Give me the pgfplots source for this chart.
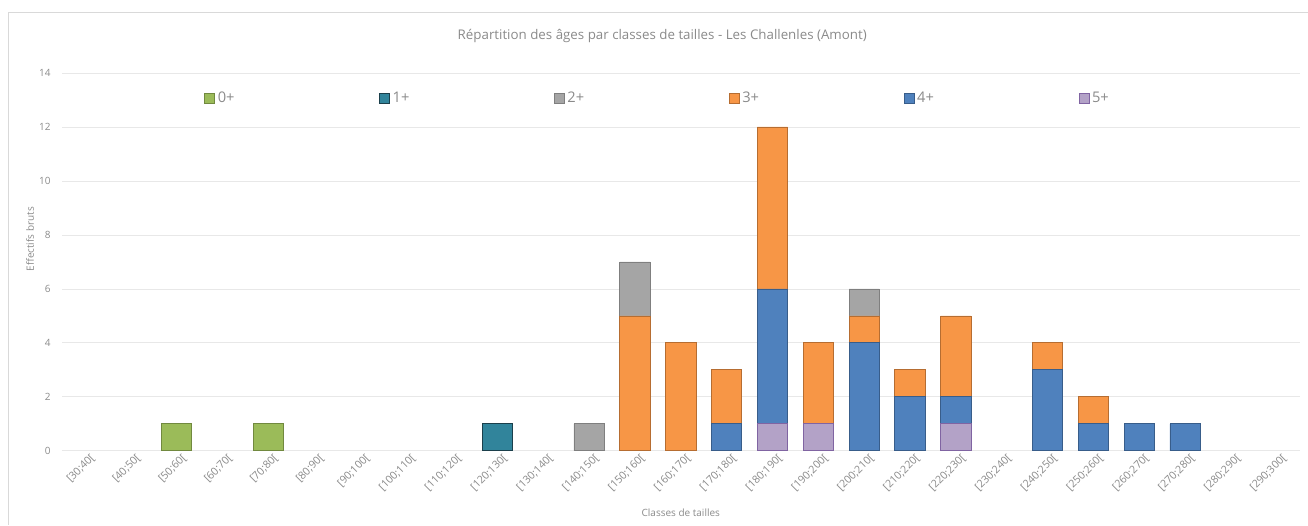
\documentclass[border=0pt]{standalone}
\usepackage{pgfplots}
\usepackage{pgfplotstable}
\pgfplotsset{compat=1.18}
\usepackage{fontspec}
\setmainfont{Open Sans}

\definecolor{cA}{HTML}{9BBB59}\definecolor{cAd}{HTML}{71893F}
\definecolor{cB}{HTML}{31849B}\definecolor{cBd}{HTML}{1B3F4B}
\definecolor{cC}{HTML}{A5A5A5}\definecolor{cCd}{HTML}{7F7F7F}
\definecolor{cD}{HTML}{F79646}\definecolor{cDd}{HTML}{B66D31}
\definecolor{cE}{HTML}{4F81BD}\definecolor{cEd}{HTML}{385D8A}
\definecolor{cF}{HTML}{B3A2C7}\definecolor{cFd}{HTML}{8064A2}
\definecolor{txt}{HTML}{8A8A8A}

% effectifs par classe de taille (index 0 = [30;40[ ... 26 = [290;300[)
\pgfplotstableread{
i  a0 a1 a2 a3 a4 a5
0  0  0  0  0  0  0
1  0  0  0  0  0  0
2  1  0  0  0  0  0
3  0  0  0  0  0  0
4  1  0  0  0  0  0
5  0  0  0  0  0  0
6  0  0  0  0  0  0
7  0  0  0  0  0  0
8  0  0  0  0  0  0
9  0  1  0  0  0  0
10 0  0  0  0  0  0
11 0  0  1  0  0  0
12 0  0  2  5  0  0
13 0  0  0  4  0  0
14 0  0  0  2  1  0
15 0  0  0  6  5  1
16 0  0  0  3  0  1
17 0  0  1  1  4  0
18 0  0  0  1  2  0
19 0  0  0  3  1  1
20 0  0  0  0  0  0
21 0  0  0  1  3  0
22 0  0  0  1  1  0
23 0  0  0  0  1  0
24 0  0  0  0  1  0
25 0  0  0  0  0  0
26 0  0  0  0  0  0
}\data

\begin{document}
\begin{tikzpicture}
\begin{axis}[
    scale only axis,
    width=928.5pt, height=283.5pt,
    ybar stacked, bar width=0.66,
    xmin=-0.5, xmax=26.5, ymin=0, ymax=14,
    ytick={0,2,...,14},
    xtick={0,...,26},
    xticklabels={{[30;40[},{[40;50[},{[50;60[},{[60;70[},{[70;80[},{[80;90[},{[90;100[},
        {[100;110[},{[110;120[},{[120;130[},{[130;140[},{[140;150[},{[150;160[},{[160;170[},
        {[170;180[},{[180;190[},{[190;200[},{[200;210[},{[210;220[},{[220;230[},{[230;240[},
        {[240;250[},{[250;260[},{[260;270[},{[270;280[},{[280;290[},{[290;300[}},
    x tick label style={rotate=45, anchor=north east, font=\fontsize{8}{9}\selectfont, text=txt, inner sep=0.5pt, yshift=-3pt, xshift=2pt},
    y tick label style={font=\fontsize{7.5}{8}\selectfont, text=txt, xshift=-5pt},
    /pgf/number format/assume math mode=true,
    major tick length=0pt,
    axis line style={draw=none},
    ymajorgrids, major grid style={draw=black!9, line width=0.6pt},
    extra y ticks={0}, extra y tick labels={},
    extra y tick style={grid style={draw=black!18, line width=0.7pt}},
    title={Répartition des âges par classes de tailles - Les Challenles (Amont)},
    title style={at={(axis description cs:0.485,1)}, anchor=center, yshift=22pt, font=\fontsize{10}{12}\selectfont, text=txt},
    xlabel={Classes de tailles},
    xlabel style={at={(axis description cs:0.5,0)}, anchor=center, yshift=-46.5pt, font=\fontsize{7.5}{8}\selectfont, text=txt},
    ylabel={Effectifs bruts},
    ylabel style={at={(axis description cs:0,0.56)}, anchor=center, yshift=24pt, font=\fontsize{7.5}{8}\selectfont, text=txt},
    legend image code/.code={\draw[#1] (0pt,-3.6pt) rectangle (7.5pt,3.6pt);},
    legend columns=6,
    legend style={at={(axis description cs:0.4815,0.965)}, anchor=north, draw=none, fill=none,
        font=\fontsize{11}{12}\selectfont, text=txt,
        /tikz/every even column/.append style={column sep=106.5pt}},
    every axis plot/.append style={line width=0.6pt},
]
\addlegendimage{fill=cA, draw=cAd}\addlegendentry{0+}
\addlegendimage{fill=cB, draw=cBd}\addlegendentry{1+}
\addlegendimage{fill=cC, draw=cCd}\addlegendentry{2+}
\addlegendimage{fill=cD, draw=cDd}\addlegendentry{3+}
\addlegendimage{fill=cE, draw=cEd}\addlegendentry{4+}
\addlegendimage{fill=cF, draw=cFd}\addlegendentry{5+}
\addplot[fill=cF, draw=cFd, forget plot] table[x=i, y=a5] {\data};
\addplot[fill=cE, draw=cEd, forget plot] table[x=i, y=a4] {\data};
\addplot[fill=cD, draw=cDd, forget plot] table[x=i, y=a3] {\data};
\addplot[fill=cC, draw=cCd, forget plot] table[x=i, y=a2] {\data};
\addplot[fill=cB, draw=cBd, forget plot] table[x=i, y=a1] {\data};
\addplot[fill=cA, draw=cAd, forget plot] table[x=i, y=a0] {\data};
\end{axis}
\draw[black!15, line width=0.6pt] ([xshift=-40.5pt,yshift=-55.5pt]current axis.south west)
    -- ([xshift=-40.5pt,yshift=45.75pt]current axis.north west)
    -- ([xshift=6pt,yshift=45.75pt]current axis.north east);
\path ([xshift=-46.5pt,yshift=-55.5pt]current axis.south west) rectangle ([xshift=6pt,yshift=54.75pt]current axis.north east);
\end{tikzpicture}
\end{document}
